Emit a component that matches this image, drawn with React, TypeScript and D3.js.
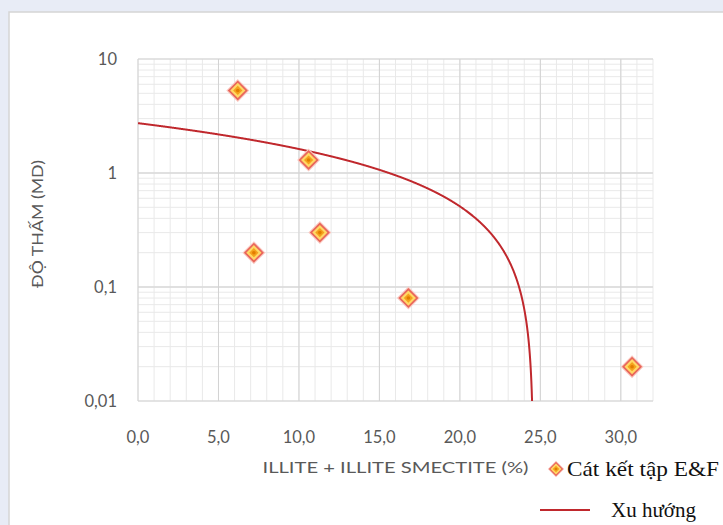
import React from "react";
import * as d3 from "d3";

// Mẫu cát kết tập E&F: hàm lượng illite + illite/smectite (%) và độ thấm (mD)
const illitePct: number[] = [6.2, 10.6, 7.2, 11.3, 16.8, 30.7];
const permeability: number[] = [5.3, 1.3, 0.2, 0.3, 0.08, 0.02];

const xTickValues: number[] = [0, 5, 10, 15, 20, 25, 30];
const yTickValues: number[] = [0.01, 0.1, 1, 10];
const yTickLabels: string[] = ["0,01", "0,1", "1", "10"];

const xAxisTitle = "ILLITE + ILLITE SMECTITE (%)";
const yAxisTitle = "ĐỘ THẤM (MD)";
const seriesName = "Cát kết tập E&F";
const trendName = "Xu hướng";

const W = 723;
const H = 525;
const plot = { left: 138, right: 653, top: 59, bottom: 401 };

const x = d3.scaleLinear().domain([0, 32]).range([plot.left, plot.right]);
const y = d3.scaleLog().domain([0.01, 10]).range([plot.bottom, plot.top]);

// Linear least-squares trend (y = a·x + b), plotted on the log axis
function linearFit(xs: number[], ys: number[]) {
  const mx = d3.mean(xs)!;
  const my = d3.mean(ys)!;
  let sxy = 0;
  let sxx = 0;
  xs.forEach((v, i) => {
    sxy += (v - mx) * (ys[i] - my);
    sxx += (v - mx) * (v - mx);
  });
  const a = sxy / sxx;
  return { a, b: my - a * mx };
}

const fit = linearFit(illitePct, permeability);
const xEnd = (0.01 - fit.b) / fit.a;
const trendPts: [number, number][] = d3
  .range(0, xEnd, 0.02)
  .concat([xEnd])
  .map((v) => [v, Math.max(fit.a * v + fit.b, 0.01)]);

const trendLine = d3
  .line<[number, number]>()
  .x((d) => x(d[0]))
  .y((d) => y(d[1]));

const diamond = (r: number) => `M0,${-r}L${r},0L0,${r}L${-r},0Z`;

function Marker({ cx, cy, s = 1 }: { cx: number; cy: number; s?: number }) {
  return (
    <g transform={`translate(${cx},${cy})`}>
      <path d={diamond(11.5 * s)} fill="#f9c8c0" />
      <path d={diamond(10 * s)} fill="#e9655a" />
      <path d={diamond(7.6 * s)} fill="#ffd866" />
      <path d={diamond(4.6 * s)} fill="#f5a21c" />
      <circle r={1.8 * s} fill="#e27d00" />
    </g>
  );
}

const minorX = d3.range(0, 33, 1);
const minorY: number[] = [];
[0.01, 0.1, 1].forEach((dec) => {
  for (let k = 1; k <= 10; k++) minorY.push(dec * k);
});

const labelFont = "Lato, 'Open Sans', sans-serif";
const serifFont = "'Liberation Serif', 'DejaVu Serif', serif";
const gray = "#595959";

export default function App() {
  return (
    <div style={{ position: "absolute", left: 0, top: 0 }}>
      <svg width={W} height={H} style={{ display: "block" }}>
        <rect x={0} y={0} width={W} height={H} fill="#e8ecf6" />
        <rect x={9} y={12} width={W} height={H} fill="#ffffff" stroke="#d5d5d5" strokeWidth={1.5} />
        <defs>
          <clipPath id="plot-clip">
            <rect x={plot.left} y={plot.top} width={plot.right - plot.left} height={plot.bottom - plot.top} />
          </clipPath>
        </defs>

        {/* minor grid */}
        <g stroke="#e9e9e9" strokeWidth={1}>
          {minorX.map((v) => (
            <line key={"mx" + v} x1={x(v)} x2={x(v)} y1={plot.top} y2={plot.bottom} />
          ))}
          {minorY.map((v, i) => (
            <line key={"my" + i} x1={plot.left} x2={plot.right} y1={y(v)} y2={y(v)} />
          ))}
        </g>
        {/* major grid */}
        <g stroke="#d2d2d2" strokeWidth={1}>
          {xTickValues.map((v) => (
            <line key={"Mx" + v} x1={x(v)} x2={x(v)} y1={plot.top} y2={plot.bottom} />
          ))}
          {yTickValues.map((v) => (
            <line key={"My" + v} x1={plot.left} x2={plot.right} y1={y(v)} y2={y(v)} />
          ))}
        </g>

        {/* tick labels */}
        <g fontFamily={labelFont} fontSize={16.5} fill={gray}>
          {xTickValues.map((v) => (
            <text key={"tx" + v} x={x(v)} y={443} textAnchor="middle">
              {d3.format(".1f")(v).replace(".", ",")}
            </text>
          ))}
          {yTickValues.map((v, i) => (
            <text key={"ty" + v} x={117} y={y(v) + 6} textAnchor="end">
              {yTickLabels[i]}
            </text>
          ))}
        </g>

        {/* axis titles */}
        <text
          x={(plot.left + plot.right) / 2}
          y={473}
          textAnchor="middle"
          fontFamily={labelFont}
          fontSize={15}
          fill={gray}
          textLength={266}
          lengthAdjust="spacingAndGlyphs"
        >
          {xAxisTitle}
        </text>
        <text
          transform={`translate(43,224) rotate(-90)`}
          textAnchor="middle"
          fontFamily={labelFont}
          fontSize={15}
          fill={gray}
          textLength={128}
          lengthAdjust="spacingAndGlyphs"
        >
          {yAxisTitle}
        </text>

        {/* trend line */}
        <path
          d={trendLine(trendPts) ?? ""}
          fill="none"
          stroke="#c0282d"
          strokeWidth={2}
          clipPath="url(#plot-clip)"
        />

        {/* data points */}
        {illitePct.map((v, i) => (
          <Marker key={"p" + i} cx={x(v)} cy={y(permeability[i])} />
        ))}

        {/* legend */}
        <Marker cx={556} cy={469} s={0.72} />
        <text
          x={567}
          y={476}
          fontFamily={serifFont}
          fontSize={21}
          fill="#111"
          textLength={152}
          lengthAdjust="spacingAndGlyphs"
        >
          {seriesName}
        </text>
        <line x1={540} x2={590} y1={510} y2={510} stroke="#c0282d" strokeWidth={2} />
        <text x={611} y={517} fontFamily={serifFont} fontSize={21} fill="#111">
          {trendName}
        </text>
      </svg>
    </div>
  );
}
